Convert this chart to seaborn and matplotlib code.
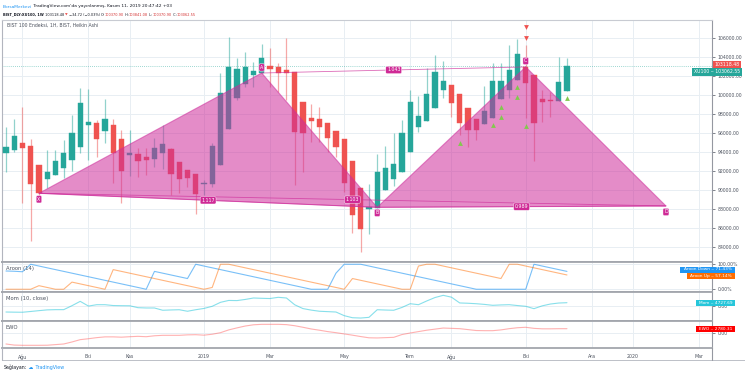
import numpy as np
import pandas as pd
import matplotlib
matplotlib.use("Agg")
import matplotlib.pyplot as plt
import matplotlib.transforms as mtransforms
from matplotlib.patches import Polygon
import seaborn as sns

sns.set_theme(style="white")
plt.rcParams["font.family"] = ["DejaVu Sans"]

# ---------------- data ----------------
# weekly bars, 0 = week of 2019-01-07
week = list(range(-24, 45))
ha_open = [93930, 94245, 94968, 94680, 92665, 91168, 91554, 92322, 93126, 94578,
           96849, 97005, 96188, 96814, 95372, 93711, 93820, 93440, 93315, 93858,
           94354, 93007, 92079, 91660, 90615, 90658, 92649, 96410, 99685, 101188,
           102044, 102297, 103069, 102880, 102575, 102423, 99282, 97626, 97443, 97022,
           96236, 95368, 93044, 90217, 88054, 88127, 90034, 91167, 91939, 93955,
           96623, 97222, 98656, 100548, 101024, 100107, 98589, 97455, 96903, 97622,
           99561, 100530, 101575, 102938, 102109, 99565, 99428, 99389, 100370.90]
ha_high = [96630, 97440, 98700, 95340, 92665, 94210, 94210, 95270, 97890, 100700,
           100620, 97370, 99540, 97440, 96320, 96300, 94400, 94400, 95445, 96840,
           94400, 93007, 92079, 91660, 91070, 94900, 102270, 106050, 103845, 104540,
           103490, 105320, 104900, 103380, 105950, 102423, 99282, 99050, 98700, 97022,
           96236, 95368, 93044, 90217, 90650, 93800, 94640, 95970, 97370, 100520,
           99890, 102800, 104190, 103590, 101024, 100107, 98589, 97455, 100940, 103320,
           103380, 105260, 105830, 105260, 102109, 100520, 100340, 104010, 103841.08]
ha_low = [91900, 94000, 88680, 84690, 89200, 90230, 91554, 91250, 92000, 93870,
          93170, 93500, 95000, 90750, 88680, 91490, 91410, 91590, 92460, 92250,
          89490, 89670, 90360, 87500, 89490, 90360, 92649, 96410, 99470, 100860,
          100860, 102297, 100860, 100340, 99470, 90540, 91940, 95090, 95090, 94040,
          93510, 89840, 85470, 83540, 85370, 88127, 90034, 90440, 91939, 93955,
          96140, 97222, 98656, 99650, 97710, 95790, 94560, 95270, 96903, 97622,
          99561, 99650, 101575, 97540, 93090, 97190, 97710, 99389, 100370.90]
ha_close = [94560, 95690, 94395, 90650, 89670, 91940, 93090, 93930, 96030, 99120,
            97160, 95370, 97440, 93930, 92050, 93900, 93060, 93190, 94400, 94850,
            91660, 91150, 91240, 89570, 90700, 94640, 100170, 102960, 102690, 102900,
            102550, 103840, 102690, 102270, 102270, 96140, 95970, 97260, 96600, 95450,
            94500, 90720, 87390, 85890, 88200, 91940, 92300, 92710, 95970, 99290,
            97820, 100090, 102440, 101500, 99190, 97070, 96320, 96350, 98340, 101500,
            101500, 102620, 104300, 101280, 97020, 99290, 99350, 101390, 103062.55]

aroon_up = [0, 0, 0, 0, 14.29, 7.14, 0, 0, 28.57, 21.43,
            14.29, 7.14, 0, 78.57, 71.43, 64.29, 57.14, 50, 42.86, 35.71,
            28.57, 21.43, 14.29, 7.14, 0, 7.14, 100, 100, 92.86, 85.71,
            78.57, 71.43, 64.29, 57.14, 50, 42.86, 35.71, 28.57, 21.43, 14.29,
            7.14, 0, 42.86, 35.71, 28.57, 21.43, 14.29, 7.14, 0, 0,
            92.86, 100, 100, 92.86, 85.71, 78.57, 71.43, 64.29, 57.14, 50,
            42.86, 100, 100, 92.86, 85.71, 78.57, 71.43, 64.29, 57.14]
aroon_down = [73, 72, 70, 100, 92.86, 85.71, 78.57, 71.43, 64.29, 57.14,
              50, 42.86, 35.71, 28.57, 21.43, 14.29, 7.14, 0, 71.43, 64.29,
              57.14, 50, 42.86, 100, 92.86, 85.71, 78.57, 71.43, 64.29, 57.14,
              50, 42.86, 35.71, 28.57, 21.43, 14.29, 7.14, 0, 0, 0,
              64.29, 100, 100, 100, 92.86, 85.71, 78.57, 71.43, 64.29, 57.14,
              50, 42.86, 35.71, 28.57, 21.43, 14.29, 7.14, 0, 0, 0,
              0, 0, 0, 0, 100, 92.86, 85.71, 78.57, 71.43]
mom = [-7500, -7700, -7800, -6800, -5700, -4700, -4400, -4400, 800, 6500,
       300, 2100, 2100, 1000, 800, 700, -1800, -2200, -2200, -5200,
       -4800, -4500, -6500, -4500, -2800, 0, 5200, 7700, 7500, 9000,
       10900, 10500, 10200, 11800, 10900, 2000, -3000, -5000, -6500, -7000,
       -7500, -12300, -15000, -15400, -14500, -4500, -4900, -5200, -1500, 3400,
       2100, 7000, 11500, 14400, 12000, 4400, 4000, 3400, 2500, 1300,
       1800, 2100, 1000, 0, -3100, 600, 3000, 4300, 4727.69]
ewo = [-7100, -7800, -7950, -7950, -7950, -7900, -7500, -7100, -5800, -4300,
       -3700, -3000, -2500, -2500, -2700, -2400, -2150, -2400, -1800, -1500,
       -1500, -1500, -1200, -1100, -1400, -800, 200, 2000, 3300, 4500,
       5300, 5600, 5600, 5600, 5400, 4700, 3700, 2600, 1800, 900,
       200, -600, -1400, -2300, -3100, -3200, -3000, -2800, -1000, 0,
       900, 1800, 2500, 3200, 3000, 2800, 2200, 1600, 1500, 1500,
       2000, 2800, 3400, 3700, 3000, 2700, 2700, 2780, 2780.31]

month_pos = [-22, -14, -9, 0, 8, 17, 25, 30, 39, 47, 52, 60]
month_labels = ["Ağu", "Eki", "Kas", "2019", "Mar", "May", "Tem", "Ağu", "Eki", "Ara", "2020", "Mar"]
price_ticks = list(range(84000, 106001, 2000))

pattern_names = ["X", "A", "B", "C", "D"]
pattern_week = [-20, 7, 21, 39, 56]
pattern_price = [89670, 102300, 88200, 102940, 88340]
ratio_labels = ["1.117", "1.043", "0.989", "1.103"]   # XB, AC, BD, XD

sig_up_week = [31, 35, 36, 36, 38, 38, 39, 44]
sig_up_price = [94910, 96840, 98760, 97710, 100800, 99750, 96770, 99650]
sig_dn_week = [39, 39]
sig_dn_price = [107100, 105945]

last_price = 103118.48
ha_last_close = 103062.55
aroon_up_last, aroon_down_last = 57.14, 71.43
mom_last = 4727.69
ewo_last = 2780.31

# ---------------- style ----------------
UP, DN = "#26a69a", "#ef5350"
PINK = "#ce2e9b"
LBL = "#cf2a96"
TXT = "#4c525e"
GRID = "#e8eef3"
SEP = "#a3a6ad"
FS = 3.8
TFS = 3.3

W, H = 745, 375
fig = plt.figure(figsize=(W / 100, H / 100), dpi=100)
fig.patch.set_facecolor("white")

LEFT, RIGHT = 2, 712


def axes_px(top, bottom, sharex=None):
    return fig.add_axes([LEFT / W, 1 - bottom / H, (RIGHT - LEFT) / W, (bottom - top) / H],
                        sharex=sharex)


ax = axes_px(19.5, 261.5)
ax_ar = axes_px(261.5, 292, sharex=ax)
ax_mo = axes_px(292, 321, sharex=ax)
ax_ew = axes_px(321, 348, sharex=ax)

bg = fig.add_axes([0, 0, 1, 1])
bg.axis("off")
bg.set_zorder(20)
bg.patch.set_visible(False)
bg.set_xlim(0, W)
bg.set_ylim(H, 0)

ax.set_xlim(-24.48, 61.58)
ax.set_ylim(82509, 107919)
ax_ar.set_ylim(-11, 111)
ax_mo.set_ylim(-19300, 18780)
ax_ew.set_ylim(-9690, 7750)

for a in (ax, ax_ar, ax_mo, ax_ew):
    a.set_facecolor("white")
    for xm in month_pos:
        a.axvline(xm, color=GRID, lw=0.7, zorder=0)
    a.yaxis.tick_right()
    a.tick_params(axis="y", labelsize=TFS, colors=TXT, length=2, width=0.5, pad=2)
    a.tick_params(axis="x", labelbottom=False, length=0)
    for s in ("top", "bottom"):
        a.spines[s].set_color(SEP)
        a.spines[s].set_linewidth(1.3)
    a.spines["left"].set_color("#b2b5be")
    a.spines["left"].set_linewidth(0.8)
    a.spines["right"].set_color("#9598a1")
    a.spines["right"].set_linewidth(0.8)
ax.spines["top"].set_linewidth(0.8)
ax.spines["top"].set_color("#c8cbd2")

# main price grid
ax.set_yticks(price_ticks)
ax.set_yticklabels([f"{v:.2f}" for v in price_ticks])
for v in price_ticks:
    ax.axhline(v, color=GRID, lw=0.7, zorder=0)

# ---------------- candles ----------------
wk = np.array(week, float)
o = np.array(ha_open, float)
hh = np.array(ha_high, float)
ll = np.array(ha_low, float)
c = np.array(ha_close, float)
cols = np.where(c >= o, UP, DN)
ax.vlines(wk, ll, hh, colors=cols, linewidth=0.9, alpha=0.5, zorder=2)
body_bottom = np.minimum(o, c)
body_h = np.maximum(np.abs(c - o), 70)
ax.bar(wk, body_h, bottom=body_bottom, width=0.62, color=cols, edgecolor=cols,
       linewidth=0.3, zorder=3)

# current price line
ax.axhline(ha_last_close, color=UP, lw=0.6, ls=(0, (1, 1.5)), alpha=0.6, zorder=1)

# ---------------- XABCD pattern ----------------
P = list(zip(pattern_week, pattern_price))
X, A, B, C, D = P
for tri in ([X, A, B], [B, C, D]):
    ax.add_patch(Polygon(tri, closed=True, fc=PINK, ec=PINK, alpha=0.55, lw=0.8, zorder=4))
for (p1, p2), lab in zip([(X, B), (A, C), (B, D), (X, D)], ratio_labels):
    ax.plot([p1[0], p2[0]], [p1[1], p2[1]], color=PINK, lw=0.6, alpha=0.7, zorder=5)
    ax.text((p1[0] + p2[0]) / 2, (p1[1] + p2[1]) / 2, lab, fontsize=3.4, color="white",
            ha="center", va="center", zorder=7,
            bbox=dict(boxstyle="round,pad=0.25,rounding_size=0.3", fc=LBL, ec="white", lw=0.3))
offsets = [-4.3, 4.0, -4.0, 4.3, -4.3]
for name, (pw, pp), off in zip(pattern_names, P, offsets):
    ax.annotate(name, (pw, pp), xytext=(0, off), textcoords="offset points",
                fontsize=3.4, color="white", ha="center", va="center", zorder=7,
                bbox=dict(boxstyle="round,pad=0.25,rounding_size=0.3", fc=LBL, ec="white", lw=0.3))

# signals
ax.scatter(sig_up_week, sig_up_price, marker="^", s=12, color="#82c84e", linewidths=0, zorder=6)
ax.scatter(sig_dn_week, sig_dn_price, marker="v", s=12, color=DN, linewidths=0, zorder=6)

# right-hand price labels
trans = mtransforms.blended_transform_factory(ax.transAxes, ax.transData)
ax.text(1.003, last_price + 60, f"{last_price:.2f}", transform=trans, fontsize=TFS,
        color="white", ha="left", va="center", zorder=10, clip_on=False,
        bbox=dict(boxstyle="square,pad=0.35", fc=DN, ec="none"))
ax.text(0.9745, 102420, f"XU100 ‒ {ha_last_close:.2f}", transform=trans, fontsize=TFS,
        color="white", ha="left", va="center", zorder=10, clip_on=False,
        bbox=dict(boxstyle="square,pad=0.35", fc=UP, ec="none"))

# ---------------- indicators (seaborn) ----------------
ind = pd.DataFrame({"week": week, "aroon_up": aroon_up, "aroon_down": aroon_down,
                    "mom": mom, "ewo": ewo})
sns.lineplot(data=ind, x="week", y="aroon_down", ax=ax_ar, color="#2196f3", alpha=0.6,
             linewidth=0.8, legend=False)
sns.lineplot(data=ind, x="week", y="aroon_up", ax=ax_ar, color="#ff6d00", alpha=0.5,
             linewidth=0.8, legend=False)
sns.lineplot(data=ind, x="week", y="mom", ax=ax_mo, color="#26c6da", alpha=0.55,
             linewidth=0.8, legend=False)
sns.lineplot(data=ind, x="week", y="ewo", ax=ax_ew, color="#ff5252", alpha=0.45,
             linewidth=0.8, legend=False)

ax_ar.axhline(0, color=GRID, lw=0.7, zorder=0)
ax_ar.axhline(100, color=GRID, lw=0.7, zorder=0)
ax_mo.axhline(0, color=GRID, lw=0.7, zorder=0)
ax_ew.axhline(0, color=GRID, lw=0.7, zorder=0)
ax_ar.set_yticks([0, 100])
ax_ar.set_yticklabels(["0.00%", "100.00%"])
ax_mo.set_yticks([0])
ax_mo.set_yticklabels(["0.00"])
ax_ew.set_yticks([0])
ax_ew.set_yticklabels(["0.00"])

for a, lab in ((ax_ar, "Aroon (14)"), (ax_mo, "Mom (10, close)"), (ax_ew, "EWO")):
    a.set_xlabel("")
    a.set_ylabel("")
    a.text(0.005, 0.86, lab, transform=a.transAxes, fontsize=FS, color=TXT,
           ha="left", va="top")

ax_ew.set_xticks(month_pos)
ax_ew.set_xticklabels(month_labels)
ax_ew.tick_params(axis="x", labelbottom=True, labelsize=3.4, colors=TXT, length=2,
                  width=0.5, pad=2.5)
ax.set_xlim(-24.48, 61.58)


def flag(x0, x1, yc, text, fc):
    bg.add_patch(plt.Rectangle((x0, yc - 3.0), x1 - x0, 6.0, fc=fc, ec="none", zorder=5))
    bg.text((x0 + x1) / 2, yc, text, fontsize=3.1, color="white", ha="center",
            va="center", zorder=6)


flag(680, 735, 269.5, f"Aroon Down ‒ {aroon_down_last:.2f}%", "#2196f3")
flag(687, 735, 276.3, f"Aroon Up ‒ {aroon_up_last:.2f}%", "#ff6d00")
flag(696, 735, 302.8, f"Mom ‒ {mom_last:.2f}", "#26c6da")
flag(696, 735, 328.7, f"EWO ‒ {ewo_last:.2f}", "#ff0000")

# frame lines
bg.plot([LEFT, W], [360, 360], color="#b2b5be", lw=0.6)
bg.plot([RIGHT, RIGHT], [348, 360], color="#9598a1", lw=0.8)
bg.plot([LEFT, LEFT], [348, 360], color="#b2b5be", lw=0.8)

# ---------------- header & footer ----------------
renderer = fig.canvas.get_renderer()


def chain(x, y, parts, size, right=None):
    def build(sz):
        arts = []
        t = bg.text(x, y, parts[0][0], color=parts[0][1], fontsize=sz,
                    fontweight=parts[0][2], ha="left", va="bottom")
        arts.append(t)
        for s, col, wgt in parts[1:]:
            t = bg.annotate(s, xy=(1, 0), xycoords=t, color=col, fontsize=sz,
                            fontweight=wgt, ha="left", va="bottom")
            arts.append(t)
        return arts

    arts = build(size)
    if right is not None:
        fig.canvas.draw()
        x1 = arts[-1].get_window_extent(renderer).x1
        x0 = arts[0].get_window_extent(renderer).x0
        scale = (right - x) / max(x1 - x0, 1)
        for a_ in arts:
            a_.remove()
        arts = build(size * scale)
    return arts


DARK = "#131722"
RED = "#d32f2f"
chain(3, 8.5, [("BorsaMerkezi", "#2196f3", "normal"),
               (" TradingView.com'da yayınlanmış, Kasım 11, 2019 20:47:42 +03", DARK, "normal")],
      3.0, right=171)
chain(3, 16.5, [("BIST_DLY:XU100, 1W", DARK, "bold"),
                (" 103118.48 ", DARK, "normal"),
                ("▼", DN, "normal"),
                (" −34.72 (−0.03%) ", DARK, "normal"),
                ("O:", DARK, "normal"), ("100370.90", RED, "normal"),
                (" H:", DARK, "normal"), ("103841.08", RED, "normal"),
                (" L:", DARK, "normal"), ("100370.90", RED, "normal"),
                (" C:", DARK, "normal"), ("103062.55", RED, "normal")],
      3.0, right=188)

chain(7, 27.5, [("BIST 100 Endeksi, 1H, BIST, Heikin Ashi", TXT, "normal")], 3.4, right=100)

chain(4, 370, [("Sağlayan:", DARK, "normal"), (" ☁", "#2196f3", "normal"),
               (" TradingView", "#2196f3", "normal")], 3.5, right=65)

fig.savefig("out.png", dpi=100, facecolor="white")
